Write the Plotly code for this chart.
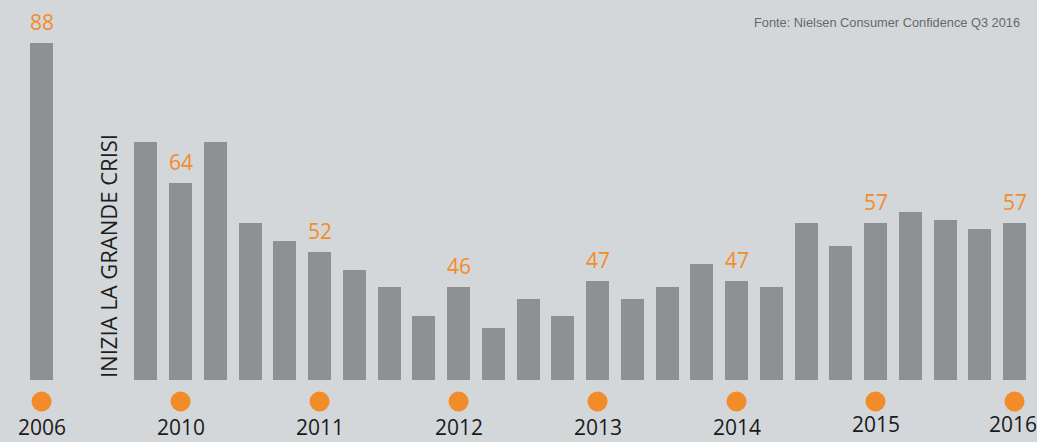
import plotly.graph_objects as go

# Nielsen consumer confidence index, Italy
periods = [
    "2006 Q1",
    "gap", "crisi",
    "2010 Q2", "2010 Q3", "2010 Q4",
    "2011 Q1", "2011 Q2", "2011 Q3", "2011 Q4",
    "2012 Q1", "2012 Q2", "2012 Q3", "2012 Q4",
    "2013 Q1", "2013 Q2", "2013 Q3", "2013 Q4",
    "2014 Q1", "2014 Q2", "2014 Q3", "2014 Q4",
    "2015 Q1", "2015 Q2", "2015 Q3", "2015 Q4",
    "2016 Q1", "2016 Q2", "2016 Q3",
]
bar_periods = [p for p in periods if p not in ("gap", "crisi")]
values = [
    88,
    71, 64, 71,
    57, 54, 52, 49,
    46, 41, 46, 39,
    44, 41, 47, 44,
    46, 50, 47, 46,
    57, 53, 57, 59,
    57.5, 56, 57,
]
# periods whose value is printed and marked with a year dot
year_periods = ["2006 Q1", "2010 Q3", "2011 Q3", "2012 Q3",
                "2013 Q3", "2014 Q3", "2015 Q3", "2016 Q3"]
year_labels = ["2006", "2010", "2011", "2012", "2013", "2014", "2015", "2016"]

BG = "#d4d7d9"
BAR = "#8e9193"
ORANGE = "#f28c28"
FONT = "Open Sans"

W, H = 1037, 442
BASE_PX = 380          # pixel row of the bar baseline
STRIP = (H - BASE_PX) / H

fig = go.Figure()
fig.add_trace(go.Bar(
    x=bar_periods, y=values,
    marker=dict(color=BAR, line=dict(width=0)),
    width=0.66, hoverinfo="skip",
))

lab_v = [values[bar_periods.index(p)] for p in year_periods]

# year dots in the strip under the baseline
fig.add_trace(go.Scatter(
    x=year_periods, y=[40.5] * len(year_periods), mode="markers",
    marker=dict(size=20, color=ORANGE, line=dict(width=0)),
    yaxis="y2", cliponaxis=False, hoverinfo="skip",
))

# value labels above the highlighted bars
for p, v in zip(year_periods, lab_v):
    fig.add_annotation(
        x=p, y=v, text=f"{v:g}", showarrow=False,
        yanchor="bottom", yshift=5,
        font=dict(family=FONT, size=21, color=ORANGE),
    )

# year labels under the dots; the last one is nudged inside the right edge
n = len(year_labels)
for i, (p, lab) in enumerate(zip(year_periods, year_labels)):
    fig.add_annotation(
        x=p, y=15, yref="y2", text=lab, showarrow=False,
        yanchor="middle", xshift=-2 if i == n - 1 else 0,
        yshift=3 if i >= n - 2 else 0,
        font=dict(family=FONT, size=21, color="#1a1a1a"),
    )

fig.add_annotation(
    x="crisi", y=30, text="INIZIA LA GRANDE CRISI", textangle=-90,
    showarrow=False, yanchor="bottom", xshift=-3, yshift=0,
    font=dict(family=FONT, size=22, color="#1e1e1e"),
)

fig.add_annotation(
    xref="paper", yref="paper", x=0.986, y=1 - 22 / H, xanchor="right", yanchor="middle",
    text="Fonte: Nielsen Consumer Confidence Q3 2016", showarrow=False,
    font=dict(family="Liberation Sans", size=12.8, color="#666869"),
)

fig.update_layout(
    width=W, height=H,
    margin=dict(l=0, r=0, t=0, b=0),
    paper_bgcolor=BG, plot_bgcolor=BG,
    showlegend=False,
    bargap=0,
    yaxis=dict(domain=[STRIP, 1], range=[30, 95.43], visible=False,
               showgrid=False, zeroline=False),
    yaxis2=dict(domain=[0, STRIP], range=[0, H - BASE_PX], visible=False,
                showgrid=False, zeroline=False, anchor="x"),
)
fig.update_xaxes(
    type="category", categoryorder="array", categoryarray=periods,
    range=[-1.196, 28.646], anchor="y",
    showticklabels=False,
    ticks="", showline=False, showgrid=False, zeroline=False,
)

fig.write_html("out.html")
